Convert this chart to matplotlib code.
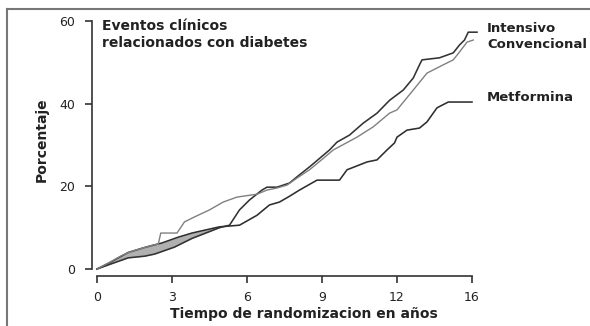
import matplotlib
matplotlib.use("Agg")
import matplotlib.pyplot as plt
from matplotlib.lines import Line2D
import numpy as np

# tiempo en años / porcentaje acumulado
t_conv = [0, 0.5, 1.0, 1.45, 2.3, 2.45, 2.55, 3.2, 3.5, 3.9, 4.5, 5.05, 5.6, 6.4, 6.8, 7.2,
          7.6, 8.0, 8.5, 9.0, 9.45, 10.4, 11.05, 11.7, 12.0, 12.65, 13.2, 13.85, 14.25, 14.5,
          14.8, 15.05]
v_conv = [0, 1.6, 3.3, 4.4, 5.9, 6.0, 8.7, 8.7, 11.4, 12.6, 14.3, 16.2, 17.4, 18.1, 19.1, 19.6,
          20.3, 22.0, 24.0, 26.5, 28.8, 31.9, 34.4, 37.7, 38.5, 43.3, 47.4, 49.4, 50.6, 52.5,
          54.9, 55.4]

t_int = [0, 0.5, 1.25, 1.9, 2.3, 3.1, 3.8, 4.9, 5.3, 5.7, 6.1, 6.6, 6.8, 7.2, 7.7, 8.0, 8.5,
         9.3, 9.6, 10.1, 10.65, 11.2, 11.7, 12.25, 12.65, 12.9, 13.0, 13.7, 14.25, 14.5, 14.7,
         14.85, 15.2]
v_int = [0, 1.1, 2.7, 3.1, 3.6, 5.3, 7.4, 10.0, 10.6, 14.3, 16.7, 19.1, 19.8, 19.8, 20.8, 22.3,
         24.7, 28.8, 30.7, 32.4, 35.3, 37.7, 40.8, 43.3, 46.2, 49.4, 50.6, 51.1, 52.3, 54.2, 55.4,
         57.3, 57.3]

t_met = [0, 0.5, 1.25, 1.9, 2.6, 3.25, 3.8, 4.9, 5.7, 6.4, 6.9, 7.3, 7.7, 8.1, 8.8, 9.7, 10.0,
         10.8, 11.2, 11.6, 11.9, 12.0, 12.4, 12.9, 13.2, 13.6, 14.05, 15.0]
v_met = [0, 1.5, 4.0, 5.2, 6.3, 7.7, 8.7, 10.2, 10.6, 13.0, 15.5, 16.2, 17.6, 19.1, 21.5, 21.5,
         24.0, 25.9, 26.4, 28.8, 30.5, 31.9, 33.6, 34.1, 35.6, 39.0, 40.4, 40.4]

x_ticks = [0, 3, 6, 9, 12, 15]
x_labels = ["0", "3", "6", "9", "12", "16"]
y_ticks = [0, 20, 40, 60]

fig = plt.figure(figsize=(5.9, 3.26), dpi=100)
W, H = 590, 326
# ejes: x=0 -> 97px, 25px por año; y=0 -> 269px, 4.133px por unidad
x0, x1 = -0.3, 15.5
y0, y1 = -1.5, 61
left = 97 + x0 * 25
right = 97 + x1 * 25
bottom = 269 - y0 * 4.133
top = 269 - y1 * 4.133
ax = fig.add_axes([left / W, 1 - bottom / H, (right - left) / W, (bottom - top) / H])
ax.set_xlim(x0, x1)
ax.set_ylim(y0, y1)

# banda sombreada entre intensivo y metformina al principio
tb = np.array(sorted(set([t for t in t_int if t <= 4.9] + [t for t in t_met if t <= 4.9])))
vi = np.interp(tb, t_int, v_int)
vm = np.interp(tb, t_met, v_met)
ax.fill_between(tb, vi, vm, color="#b0b0b0", lw=0)

ax.plot(t_met, v_met, color="#2e2e2e", lw=1.15)
ax.plot(t_int, v_int, color="#333333", lw=1.15)
ax.plot(t_conv, v_conv, color="#808080", lw=1.0)

for s in ["top", "right"]:
    ax.spines[s].set_visible(False)
ax.spines["left"].set_position(("data", -0.2))
ax.spines["bottom"].set_position(("data", -1.7))
ax.spines["left"].set_bounds(0, 60)
ax.spines["bottom"].set_bounds(0, 15)
for s in ["left", "bottom"]:
    ax.spines[s].set_color("#333333")
    ax.spines[s].set_linewidth(1.2)
ax.set_xticks(x_ticks)
ax.set_xticklabels(x_labels)
ax.set_yticks(y_ticks)
ax.tick_params(direction="out", length=5, width=1.2, color="#333333",
               labelsize=9, labelcolor="#222222")
ax.tick_params(axis="y", pad=7)
ax.tick_params(axis="x", pad=6)
ax.patch.set_visible(False)

fig.text(102 / W, 1 - 19 / H, "Eventos clínicos\nrelacionados con diabetes",
         fontsize=10, fontweight="bold", color="#222222", va="top", ha="left",
         linespacing=1.3)
fig.text(42 / W, 1 - 140 / H, "Porcentaje", rotation=90, fontsize=10,
         fontweight="bold", color="#222222", ha="center", va="center")
fig.text(304 / W, 1 - 314 / H, "Tiempo de randomizacion en años", fontsize=10,
         fontweight="bold", color="#222222", ha="center", va="center")
fig.text(487 / W, 1 - 28 / H, "Intensivo", fontsize=9.5, fontweight="bold",
         color="#222222", ha="left", va="center")
fig.text(487 / W, 1 - 45 / H, "Convencional", fontsize=9.5, fontweight="bold",
         color="#222222", ha="left", va="center")
fig.text(487 / W, 1 - 97 / H, "Metformina", fontsize=9.5, fontweight="bold",
         color="#222222", ha="left", va="center")

# marco gris de la imagen (arriba e izquierda)
fig.add_artist(Line2D([7 / W, 7 / W], [0, 1 - 9 / H], color="#777777", lw=1.5))
fig.add_artist(Line2D([7 / W, 1], [1 - 9 / H, 1 - 9 / H], color="#777777", lw=1.5))

fig.savefig("out.png", dpi=100)
